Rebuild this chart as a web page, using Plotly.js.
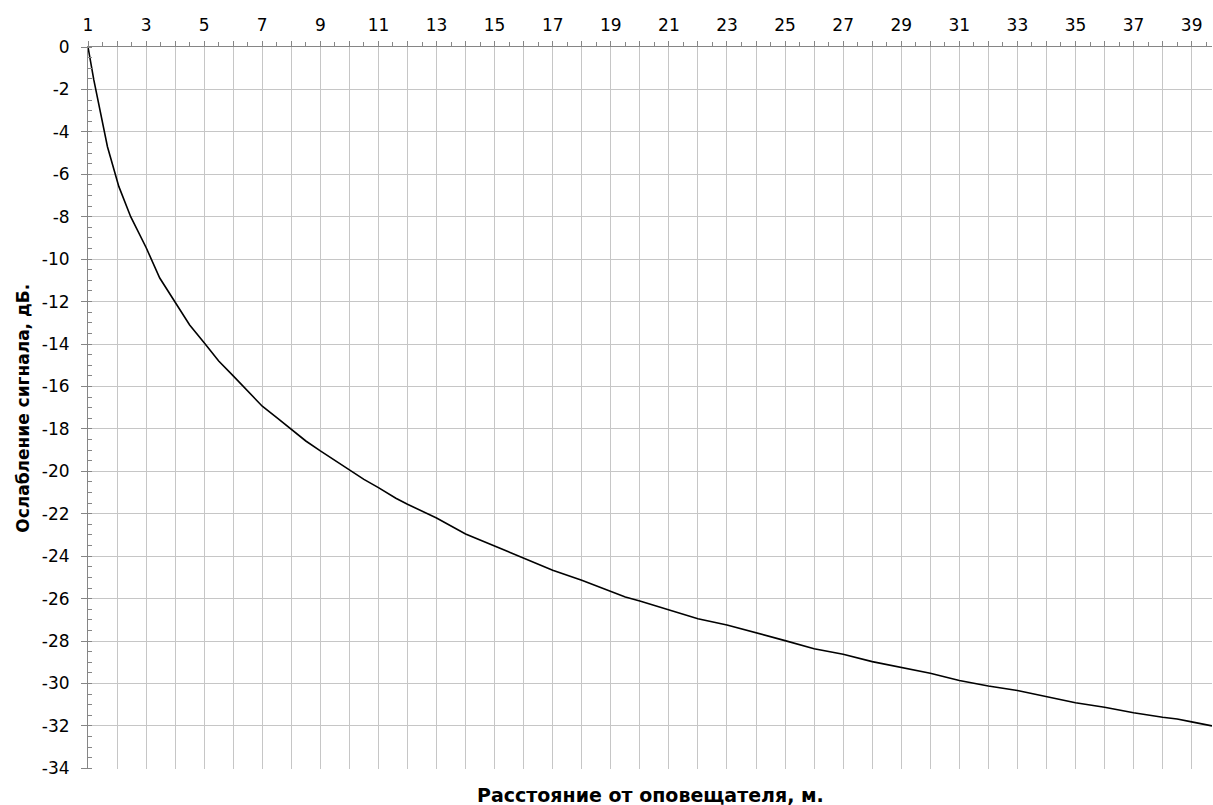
<!DOCTYPE html>
<html>
<head>
<meta charset="utf-8">
<script src="https://cdn.plot.ly/plotly-3.0.1.min.js"></script>
<style>
  html, body { margin: 0; padding: 0; background: #ffffff; }
  #chart { width: 1213px; height: 805px; }
</style>
</head>
<body>
<div id="chart"></div>
<script>
// Position along the distance axis (m) and signal attenuation (dB)
var distance = [1, 1.2, 1.67, 2.06, 2.47, 3, 3.47, 4, 4.5, 5, 5.5, 6, 6.5, 7, 7.5, 8, 8.5, 9, 9.5, 10,
                10.5, 11, 11.6, 12, 13, 14, 15, 16, 17, 18, 19, 19.5, 20, 21, 22, 23, 24, 25, 26, 27,
                28, 29, 30, 31, 32, 33, 34, 35, 36, 37, 38, 38.5, 39, 39.7];
var attenuation = [0, -1.55, -4.7, -6.57, -8.0, -9.45, -10.89, -12.0, -13.1, -13.94, -14.8, -15.5, -16.2, -16.93, -17.47, -18.02, -18.57, -19.04, -19.5, -19.94,
                   -20.38, -20.77, -21.27, -21.55, -22.2, -22.95, -23.52, -24.1, -24.66, -25.13, -25.64, -25.92, -26.11, -26.52, -26.95, -27.24, -27.6, -27.98, -28.36, -28.62,
                   -28.97, -29.23, -29.52, -29.86, -30.12, -30.33, -30.63, -30.91, -31.12, -31.38, -31.59, -31.67, -31.81, -32.0];

// Tick labels
var xTickVals = [1,2,3,4,5,6,7,8,9,10,11,12,13,14,15,16,17,18,19,20,21,22,23,24,25,26,27,28,29,30,31,32,33,34,35,36,37,38,39];
var xTickText = ["1","","3","","5","","7","","9","","11","","13","","15","","17","","19","","21","","23","","25","","27","","29","","31","","33","","35","","37","","39"];
var yTickVals = [0,-2,-4,-6,-8,-10,-12,-14,-16,-18,-20,-22,-24,-26,-28,-30,-32,-34];
var yTickText = ["0","-2","-4","-6","-8","-10","-12","-14","-16","-18","-20","-22","-24","-26","-28","-30","-32","-34"];

var xTitle = "Расстояние от оповещателя, м.";
var yTitle = "Ослабление сигнала, дБ.";

var axisGray = "#868686";
var gridGray = "#c6c6c6";
var fontFam = "DejaVu Sans, Liberation Sans, Arial, sans-serif";
var xRange = [1, 39.7];
var yRange = [-34.03, 0];

var trace = {
  x: distance,
  y: attenuation,
  type: "scatter",
  mode: "lines",
  line: { color: "#000000", width: 1.6 },
  hoverinfo: "skip",
  showlegend: false
};

var layout = {
  width: 1213,
  height: 805,
  margin: { l: 88, r: 1, t: 47, b: 36, pad: 0 },
  paper_bgcolor: "#ffffff",
  plot_bgcolor: "#ffffff",
  showlegend: false,
  xaxis: {
    side: "top",
    range: xRange,
    tickmode: "array",
    tickvals: xTickVals,
    ticktext: xTickText,
    ticks: "outside",
    ticklen: 5,
    tickwidth: 1,
    tickcolor: axisGray,
    showline: true,
    linecolor: axisGray,
    linewidth: 1,
    showgrid: true,
    gridcolor: gridGray,
    gridwidth: 1,
    zeroline: false,
    ticklabelstandoff: 3,
    tickfont: { family: fontFam, size: 17, color: "#000000" },
    minor: { tickmode: "linear", tick0: 1, dtick: 0.5, ticks: "outside", ticklen: 4, tickwidth: 1, tickcolor: axisGray, showgrid: false },
    fixedrange: true
  },
  yaxis: {
    range: yRange,
    tickmode: "array",
    tickvals: yTickVals,
    ticktext: yTickText,
    ticks: "outside",
    ticklen: 6,
    tickwidth: 1,
    tickcolor: axisGray,
    showline: true,
    linecolor: axisGray,
    linewidth: 1,
    showgrid: true,
    gridcolor: gridGray,
    gridwidth: 1,
    zeroline: false,
    ticklabelstandoff: 8,
    tickfont: { family: fontFam, size: 17, color: "#000000" },
    minor: { tickmode: "linear", tick0: 0, dtick: 0.5, ticks: "inside", ticklen: 4, tickwidth: 1, tickcolor: axisGray, showgrid: false },
    fixedrange: true
  },
  xaxis2: {
    overlaying: "x",
    anchor: "y",
    side: "top",
    range: xRange,
    tickmode: "array",
    tickvals: xTickVals,
    ticks: "inside",
    ticklen: 5,
    tickwidth: 1,
    tickcolor: axisGray,
    showticklabels: false,
    showline: false,
    showgrid: false,
    zeroline: false,
    fixedrange: true
  },
  yaxis2: {
    overlaying: "y",
    anchor: "x",
    side: "left",
    range: yRange,
    tickmode: "array",
    tickvals: yTickVals,
    ticks: "inside",
    ticklen: 6,
    tickwidth: 1,
    tickcolor: axisGray,
    showticklabels: false,
    showline: false,
    showgrid: false,
    zeroline: false,
    fixedrange: true
  },
  annotations: [
    {
      text: "<b>" + xTitle + "</b>",
      xref: "paper", yref: "paper",
      x: 0.5, y: -0.036,
      xanchor: "center", yanchor: "middle",
      showarrow: false,
      font: { family: fontFam, size: 19, color: "#000000" }
    },
    {
      text: "<b>" + yTitle + "</b>",
      xref: "paper", yref: "paper",
      x: -0.058, y: 0.5,
      xanchor: "center", yanchor: "middle",
      textangle: -90,
      showarrow: false,
      font: { family: fontFam, size: 17, color: "#000000" }
    }
  ]
};

Plotly.newPlot("chart", [trace], layout, { displayModeBar: false, staticPlot: true });
</script>
</body>
</html>
